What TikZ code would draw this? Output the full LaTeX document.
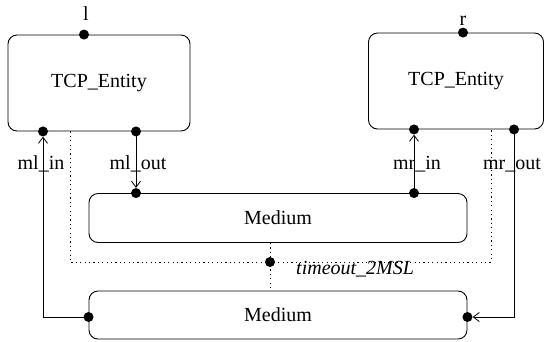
\documentclass[tikz,border=0pt]{standalone}
\usepackage{fontspec}
\setmainfont{Liberation Serif}
\usetikzlibrary{arrows.meta}
\begin{document}
\begin{tikzpicture}[x=1bp,y=-1bp,
  every node/.style={font=\fontsize{20bp}{24bp}\selectfont},
  block/.style={draw,line width=0.9bp,rounded corners=9bp,inner sep=0pt},
  port/.style={circle,fill=black,inner sep=0pt,minimum size=10bp},
  wire/.style={line width=0.9bp},
  arr/.style={wire,-{Straight Barb[length=6bp,width=9bp,line width=0.8bp]}},
  dots/.style={line width=1bp,dash pattern=on 1.2bp off 3.2bp},
  lbl/.style={anchor=base,inner sep=0pt}]
\useasboundingbox (0,0) rectangle (545,341);
% blocks
\node[block,minimum width=182bp,minimum height=96bp] (tl) at (99,83) {TCP\_Entity};
\node[block,minimum width=175bp,minimum height=96bp] (tr) at (456,81) {TCP\_Entity};
\node[block,minimum width=378bp,minimum height=49bp] (m1) at (278,218) {Medium};
\node[block,minimum width=378bp,minimum height=48bp] (m2) at (278,315) {Medium};
% dotted connections (drawn first)
\coordinate (dl) at (tl.south -| 70,0);
\coordinate (dr) at (tr.south -| 491,0);
\coordinate (dm1) at (m1.south -| 270,0);
\coordinate (dm2) at (m2.north -| 270,0);
\node[port] (tm) at (270,262) {};
\draw[dots] (dl) |- (tm.center) -| (dr);
\draw[dots] (dm1) -- (dm2);
% ports
\node[port] (pl) at (tl.north -| 84,0) {};
\node[port] (pr) at (tr.north -| 463,0) {};
\node[port] (lin) at (tl.south -| 43,0) {};
\node[port] (lout) at (tl.south -| 136,0) {};
\node[port] (rin) at (tr.south -| 414,0) {};
\node[port] (rout) at (tr.south -| 514,0) {};
\node[port] (m1a) at (m1.north -| 136,0) {};
\node[port] (m1b) at (m1.north -| 414,0) {};
\node[port] (m2a) at (m2.west |- 0,317) {};
\node[port] (m2b) at (m2.east |- 0,317) {};
% wires
\draw[arr] (lout.center) -- (m1a);
\draw[arr] (m1b.center) -- (rin);
\draw[arr] (m2a.center) -| (lin);
\draw[arr] (rout.center) |- (m2b);
% labels
\node[lbl] (lab-l) at (86,20) {l};
\node[lbl] (lab-r) at (463,25) {r};
\node[lbl] (lab-lin) at (41,169) {ml\_in};
\node[lbl] (lab-lout) at (138,169) {ml\_out};
\node[lbl] (lab-rin) at (417,169) {mr\_in};
\node[lbl] (lab-rout) at (512,169) {mr\_out};
\node[anchor=base west,inner sep=0pt] (lab-t) at (296,274) {\itshape timeout\_2MSL};
\end{tikzpicture}
\end{document}
